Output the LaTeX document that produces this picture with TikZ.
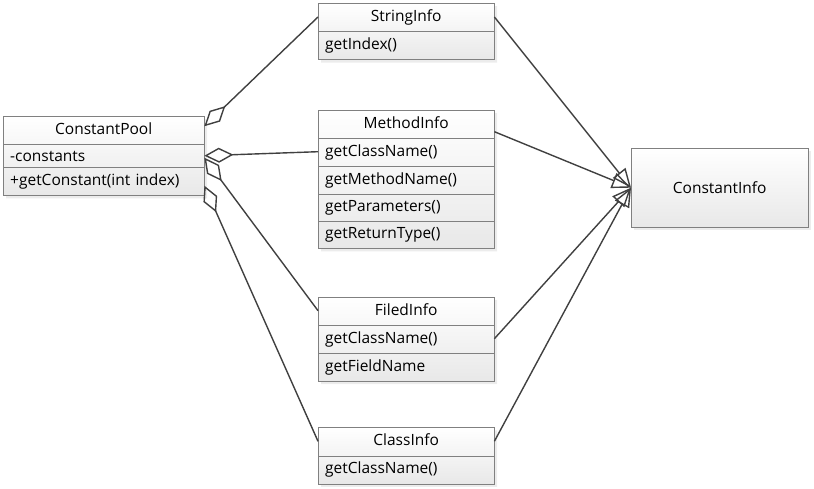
\documentclass[tikz,border=0pt]{standalone}
\usepackage{fontspec}
\setmainfont{Open Sans}
\usetikzlibrary{arrows.meta, positioning, shapes.multipart, shadows}

\begin{document}
\begin{tikzpicture}[
  x=1pt, y=1pt,
  umlclass/.style={rectangle split, draw=black!50, top color=white, bottom color=black!9,
    drop shadow={shadow xshift=3pt, shadow yshift=-3pt, fill=black!15},
    text width=#1, align=left, inner xsep=7pt, inner ysep=6pt,
    text height=12pt, text depth=4pt, font=\fontsize{15.5}{16}\selectfont},
  umlclass/.default=162pt,
  plainclass/.style={rectangle, draw=black!50, top color=white, bottom color=black!9,
    drop shadow={shadow xshift=3pt, shadow yshift=-3pt, fill=black!15},
    minimum width=177pt, minimum height=79pt, font=\fontsize{15.5}{16}\selectfont},
  aggr/.style={{Diamond[open, length=29pt, width=15pt]}-, line width=1.4pt, black!75},
  inh/.style={-{Triangle[open, length=19pt, width=16pt]}, line width=1.4pt, black!75},
]
\useasboundingbox (0,0) rectangle (814,-488);

% pool
\node[umlclass=187pt, rectangle split parts=3, anchor=north west] (pool) at (3,-116)
  {\centering ConstantPool\par
   \nodepart{two} -constants
   \nodepart{three} +getConstant(int index)};

% constant kinds
\node[umlclass, rectangle split parts=2, anchor=north west] (strinfo) at (318,-3)
  {\centering StringInfo\par
   \nodepart{two} getIndex()};
\node[umlclass, rectangle split parts=5, below=50pt of strinfo] (methinfo)
  {\centering MethodInfo\par
   \nodepart{two} getClassName()
   \nodepart{three} getMethodName()
   \nodepart{four} getParameters()
   \nodepart{five} getReturnType()};
\node[umlclass, rectangle split parts=3, below=48pt of methinfo] (fldinfo)
  {\centering FiledInfo\par
   \nodepart{two} getClassName()
   \nodepart{three} getFieldName};
\node[umlclass, rectangle split parts=2, below=46pt of fldinfo] (clsinfo)
  {\centering ClassInfo\par
   \nodepart{two} getClassName()};

% base
\node[plainclass, anchor=north west] (cinfo) at (631,-148) {ConstantInfo};

% aggregation
\draw[aggr] ([yshift=29.5pt]pool.east) -- ([yshift=-14pt]strinfo.north west);
\draw[aggr] (pool.east) -- ([yshift=-42pt]methinfo.north west);
\draw[aggr] ([yshift=-2pt]pool.east) -- ([yshift=-14pt]fldinfo.north west);
\draw[aggr] ([yshift=-30pt]pool.east) -- ([yshift=-14pt]clsinfo.north west);

% generalization
\draw[inh] ([yshift=-14pt]strinfo.north east) -- (cinfo.west);
\draw[inh] ([yshift=-22pt]methinfo.north east) -- (cinfo.west);
\draw[inh] ([yshift=-42pt]fldinfo.north east) -- (cinfo.west);
\draw[inh] ([yshift=-14pt]clsinfo.north east) -- (cinfo.west);

\end{tikzpicture}
\end{document}
